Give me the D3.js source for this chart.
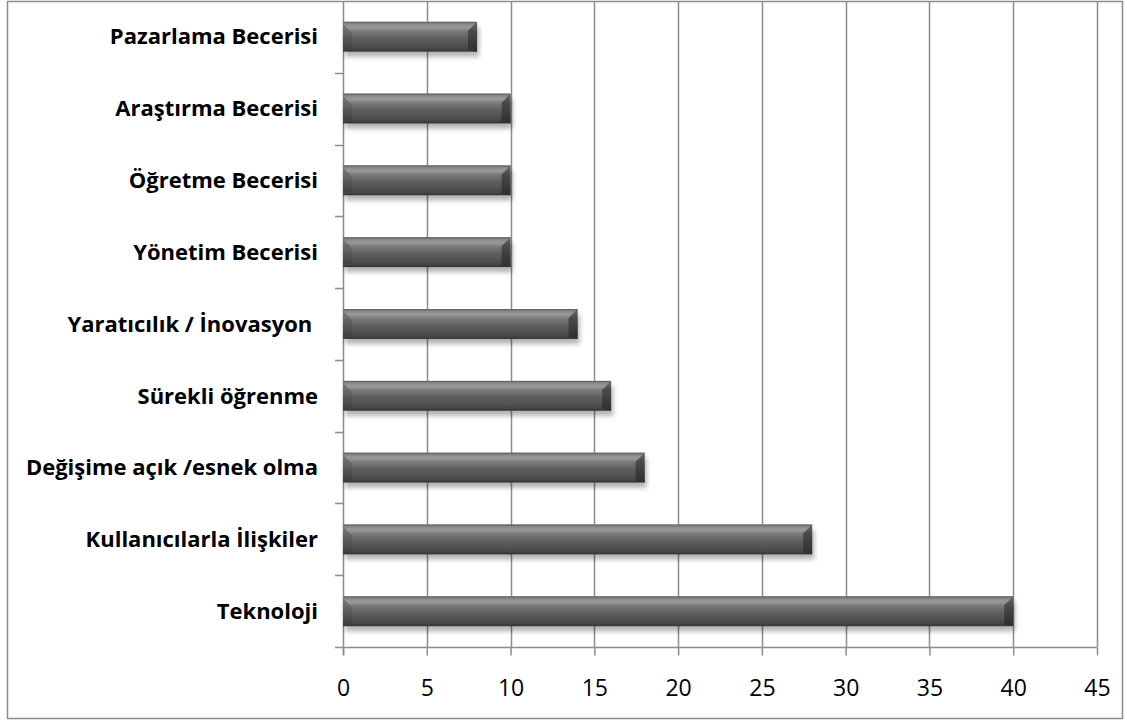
<!DOCTYPE html>
<html>
<head>
<meta charset="utf-8">
<script src="https://cdn.jsdelivr.net/npm/d3@7/dist/d3.min.js"></script>
<style>
  html, body { margin: 0; padding: 0; background: #fff; }
  svg { display: block; }
  .cat { white-space: pre; }
</style>
</head>
<body>
<script>
// Skill categories, top to bottom, and their counts
const categories = [
  "Pazarlama Becerisi",
  "Araştırma Becerisi",
  "Öğretme Becerisi",
  "Yönetim Becerisi",
  "Yaratıcılık / İnovasyon ",
  "Sürekli öğrenme",
  "Değişime açık /esnek olma",
  "Kullanıcılarla İlişkiler",
  "Teknoloji"
];
const values = [8, 10, 10, 10, 14, 16, 18, 28, 40];
const xTicks = [0, 5, 10, 15, 20, 25, 30, 35, 40, 45];

const W = 1127, H = 721;
const plot = { left: 343, right: 1097, top: 1, bottom: 647 };

const svg = d3.select("body").append("svg").attr("width", W).attr("height", H);

const defs = svg.append("defs");
function vGrad(id, stops) {
  const g = defs.append("linearGradient").attr("id", id).attr("x1", 0).attr("y1", 0).attr("x2", 0).attr("y2", 1);
  stops.forEach(([o, c]) => g.append("stop").attr("offset", o).attr("stop-color", c));
}
vGrad("face", [["0%", "#6e6e6e"], ["8%", "#8a8a8a"], ["18%", "#9a9a9a"], ["32%", "#7a7a7a"], ["55%", "#5e5e5e"], ["80%", "#505050"], ["92%", "#444"], ["100%", "#303030"]]);
vGrad("endR", [["0%", "#6a6a6a"], ["30%", "#4a4a4a"], ["100%", "#2e2e2e"]]);
vGrad("endL", [["0%", "#555"], ["40%", "#5a5a5a"], ["100%", "#3a3a3a"]]);
const shadow = defs.append("filter").attr("id", "shadow").attr("x", "-5%").attr("y", "-40%").attr("width", "110%").attr("height", "200%");
shadow.append("feGaussianBlur").attr("stdDeviation", 2.5);

// chart frame
svg.append("rect")
  .attr("x", 7.5).attr("y", 1.5).attr("width", 1115).attr("height", 717)
  .attr("fill", "#fff").attr("stroke", "#8c8c8c").attr("stroke-width", 1.5);

const x = d3.scaleLinear().domain([0, 45]).range([plot.left, plot.right]);
const y = d3.scaleBand().domain(categories).range([plot.top, plot.bottom]).paddingInner(0.585).paddingOuter(0.29);

// vertical gridlines
svg.append("g").selectAll("line").data(xTicks.slice(1)).join("line")
  .attr("x1", d => Math.round(x(d)) + 0.5).attr("x2", d => Math.round(x(d)) + 0.5)
  .attr("y1", plot.top).attr("y2", plot.bottom)
  .attr("stroke", "#8c8c8c").attr("stroke-width", 1.5);

// bottom axis
const xAxis = d3.axisBottom(x).tickValues(xTicks).tickSize(8).tickPadding(24);
const gx = svg.append("g").attr("transform", `translate(0,${plot.bottom + 0.5})`).call(xAxis);
gx.select(".domain").attr("stroke", "#8c8c8c").attr("stroke-width", 1.5).attr("d", `M${plot.left - 8},0H${plot.right}`);
gx.selectAll(".tick line").attr("stroke", "#8c8c8c").attr("stroke-width", 1.5);
gx.selectAll(".tick text")
  .attr("font-family", "'Open Sans', sans-serif").attr("font-size", 23).attr("fill", "#000");

// left axis with ticks between categories
const boundaries = d3.range(categories.length + 1).map(i => plot.top + i * (plot.bottom - plot.top) / categories.length);
svg.append("line")
  .attr("x1", plot.left + 0.5).attr("x2", plot.left + 0.5)
  .attr("y1", plot.top).attr("y2", plot.bottom + 8)
  .attr("stroke", "#8c8c8c").attr("stroke-width", 1.5);
svg.append("g").selectAll("line").data(boundaries.slice(1, -1)).join("line")
  .attr("x1", plot.left - 8).attr("x2", plot.left)
  .attr("y1", d => Math.round(d) + 0.5).attr("y2", d => Math.round(d) + 0.5)
  .attr("stroke", "#8c8c8c").attr("stroke-width", 1.5);

// category labels (trailing spaces kept)
svg.append("g").selectAll("text").data(categories).join("text")
  .attr("class", "cat")
  .attr("x", 318).attr("y", d => y(d) + y.bandwidth() / 2)
  .attr("dy", "0.35em").attr("text-anchor", "end")
  .attr("font-family", "'Open Sans', sans-serif").attr("font-weight", 700)
  .attr("font-size", 22).attr("fill", "#000")
  .text(d => d);

// beveled bars
const bars = svg.append("g").selectAll("g").data(categories.map((c, i) => ({ c, v: values[i] }))).join("g");
const ew = 9;

bars.append("rect")
  .attr("x", x(0) + 2).attr("y", d => y(d.c) + 5)
  .attr("width", d => x(d.v) - x(0)).attr("height", y.bandwidth())
  .attr("fill", "#000").attr("opacity", 0.3).attr("filter", "url(#shadow)");

bars.append("rect")
  .attr("x", x(0)).attr("y", d => y(d.c))
  .attr("width", d => x(d.v) - x(0)).attr("height", y.bandwidth())
  .attr("fill", "url(#face)");

// left end bevel
bars.append("path").attr("fill", "url(#endL)").attr("opacity", 0.55)
  .attr("d", d => {
    const x0 = x(0), y0 = y(d.c), y1 = y0 + y.bandwidth();
    return `M${x0},${y0 + 2}L${x0 + ew},${y0 + ew + 2}V${y1 - 3}H${x0}Z`;
  });
// right end bevel
bars.append("path").attr("fill", "url(#endR)")
  .attr("d", d => {
    const x1 = x(d.v), y0 = y(d.c), y1 = y0 + y.bandwidth();
    return `M${x1},${y0}L${x1 - ew},${y0 + ew}V${y1 - 2}L${x1},${y1}Z`;
  });
// top edge line
bars.append("line")
  .attr("x1", x(0)).attr("x2", d => x(d.v))
  .attr("y1", d => y(d.c) + 0.5).attr("y2", d => y(d.c) + 0.5)
  .attr("stroke", "#666").attr("stroke-width", 1);
</script>
</body>
</html>
